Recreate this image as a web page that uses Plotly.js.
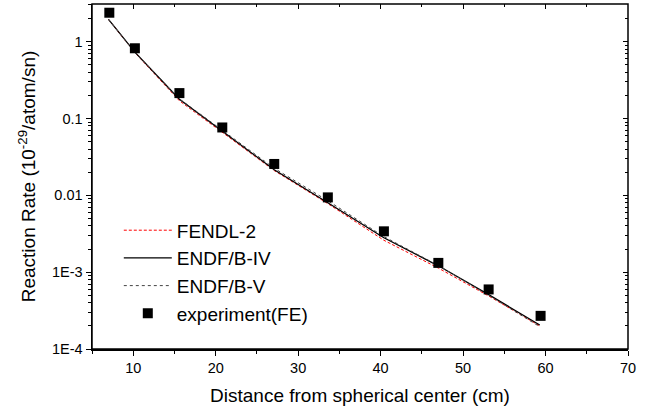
<!DOCTYPE html>
<html><head><meta charset="utf-8">
<script src="https://cdn.plot.ly/plotly-3.0.1.min.js"></script>
<style>html,body{margin:0;padding:0;background:#fff;}#chart{width:650px;height:412px;}</style>
</head><body><div id="chart"></div>
<script>
const calcX = [7.0, 10.2, 15.6, 20.8, 27.1, 33.6, 40.4, 47.0, 53.1, 59.3];
const fendl2 = [1.95, 0.72, 0.170, 0.066, 0.0210, 0.0078, 0.0026, 0.00113, 0.00049, 0.000200];
const endfb4 = [1.95, 0.73, 0.178, 0.069, 0.0215, 0.0080, 0.0028, 0.00121, 0.00051, 0.000205];
const endfb5 = [1.95, 0.73, 0.180, 0.071, 0.0225, 0.0085, 0.0029, 0.00122, 0.00050, 0.000195];
const expX = [7.1, 10.2, 15.6, 20.8, 27.1, 33.6, 40.4, 47.0, 53.1, 59.4];
const expY = [2.38, 0.82, 0.214, 0.0764, 0.0256, 0.0094, 0.0034, 0.00132, 0.000596, 0.00027];
const yTickVals = [1e-4, 1e-3, 0.01, 0.1, 1];
const yTickText = ['1E-4', '1E-3', '0.01', '0.1', '1'];
const xTickVals = [10, 20, 30, 40, 50, 60, 70];

const font = {family: '"Liberation Sans", Arial, sans-serif', color: '#000'};
const traces = [
  {x: calcX, y: fendl2, mode: 'lines', name: 'FENDL-2', legendgroup: 'a',
   line: {color: '#ff0000', width: 1, dash: '3px,2px'}},
  {x: calcX, y: endfb4, mode: 'lines', name: 'ENDF/B-IV', legendgroup: 'b',
   line: {color: '#000', width: 1.3}},
  {x: calcX, y: endfb5, mode: 'lines', name: 'ENDF/B-V', legendgroup: 'c',
   line: {color: '#444', width: 1, dash: 'dot'}},
  {x: expX, y: expY, mode: 'markers', name: 'experiment(FE)', legendgroup: 'd',
   marker: {symbol: 'square', size: 10, color: '#000'}}
];
const axCommon = {showgrid: false, zeroline: false, linecolor: '#000', linewidth: 1.5,
  tickcolor: '#000', tickfont: Object.assign({size: 14.5}, font)};
const layout = {
  width: 650, height: 412,
  margin: {l: 92, r: 22, t: 4, b: 63},
  paper_bgcolor: '#fff', plot_bgcolor: '#fff',
  font: font,
  showlegend: true,
  legend: {x: 0.05, y: 0.399, xanchor: 'left', yanchor: 'top', bgcolor: 'rgba(0,0,0,0)',
    font: Object.assign({size: 19}, font), tracegroupgap: 0, itemwidth: 48},
  xaxis: Object.assign({}, axCommon, {range: [5, 70], tickvals: xTickVals, ticks: 'outside', ticklen: 5,
    minor: {dtick: 5, tick0: 5, ticks: 'outside', ticklen: 3, tickcolor: '#000'},
    title: {text: 'Distance from spherical center (cm)', font: Object.assign({size: 19}, font), standoff: 14}}),
  yaxis: Object.assign({}, axCommon, {type: 'log', range: [-4, 0.49], tickvals: yTickVals, ticktext: yTickText,
    ticks: 'outside', ticklen: 5,
    minor: {dtick: 'D1', ticks: 'outside', ticklen: 3, tickcolor: '#000'},
    title: {text: 'Reaction Rate (10<sup>-29</sup>/atom/sn)', font: Object.assign({size: 19}, font), standoff: 11}}),
  xaxis2: {overlaying: 'x', side: 'top', range: [5, 70], tickvals: xTickVals, ticks: 'inside', ticklen: 5,
    showticklabels: false, showgrid: false, zeroline: false, showline: false, tickcolor: '#000',
    minor: {dtick: 5, tick0: 5, ticks: 'inside', ticklen: 3, tickcolor: '#000'}},
  yaxis2: {overlaying: 'y', side: 'right', type: 'log', range: [-4, 0.49], tickvals: yTickVals, ticks: 'inside', ticklen: 5,
    showticklabels: false, showgrid: false, zeroline: false, showline: false, tickcolor: '#000',
    minor: {dtick: 'D1', ticks: 'inside', ticklen: 3, tickcolor: '#000'}},
  shapes: [{type: 'rect', xref: 'paper', yref: 'paper', x0: 0, x1: 1, y0: 0, y1: 1,
    line: {color: '#000', width: 1.5}, fillcolor: 'rgba(0,0,0,0)'}]
};
// invisible helper trace so the top/right axes draw their inward ticks
traces.push({x: [expX[0]], y: [expY[0]], xaxis: 'x2', yaxis: 'y2', mode: 'markers',
  marker: {opacity: 0}, showlegend: false, hoverinfo: 'skip'});
Plotly.newPlot('chart', traces, layout, {displayModeBar: false, staticPlot: true});
</script></body></html>
